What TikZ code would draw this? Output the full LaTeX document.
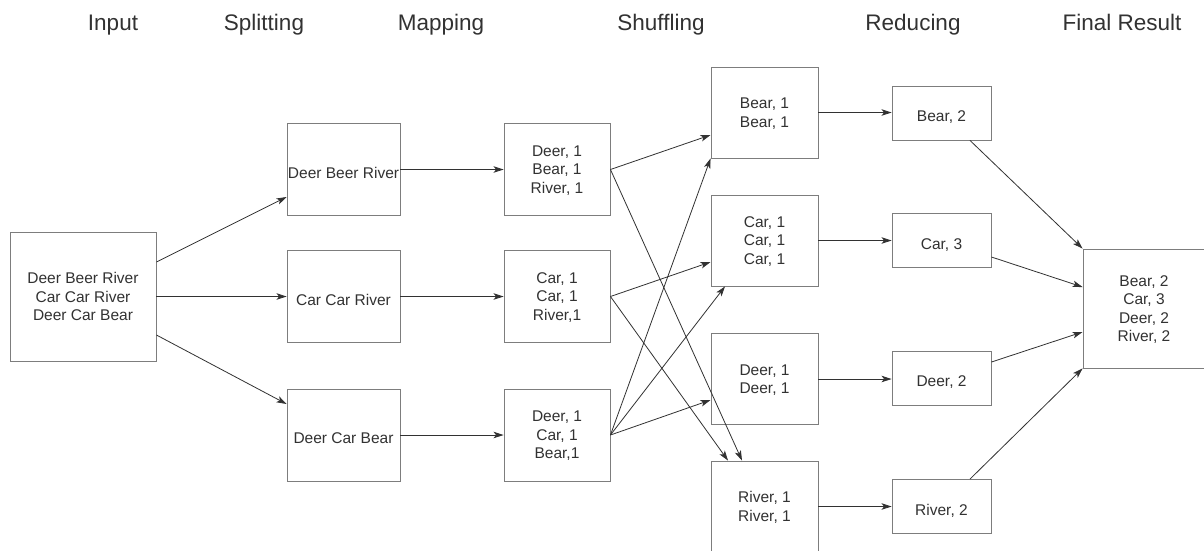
\documentclass[tikz,border=0pt]{standalone}
\usepackage{fontspec}
\setmainfont{Liberation Sans}
\usetikzlibrary{arrows.meta}
\definecolor{boxline}{RGB}{125,125,125}
\definecolor{wire}{RGB}{50,50,50}
\definecolor{txt}{RGB}{50,50,50}

\begin{document}
\begin{tikzpicture}[x=1pt,y=-1pt,
  box/.style={draw=boxline, line width=0.9pt, inner sep=0pt, align=center,
    text=txt, font=\fontsize{15.5}{18.6}\selectfont, text depth=0pt,
    execute at begin node={\rule{0pt}{17pt}}},
  heading/.style={anchor=base, text=txt, font=\fontsize{22.5}{27}\selectfont},
  flow/.style={draw=wire, line width=0.8pt,
    -{Stealth[length=10pt,width=6.5pt,inset=2.5pt]}}]

\fill[white] (0,0) rectangle (1204,550);
\useasboundingbox (0,0) rectangle (1204,550);

% column headings
\node[heading] (hIn)  at (113,30)  {Input};
\node[heading] (hSp)  at (264,30)  {Splitting};
\node[heading] (hMp)  at (441,30)  {Mapping};
\node[heading] (hSh)  at (661,30)  {Shuffling};
\node[heading] (hRd)  at (913,30)  {Reducing};
\node[heading] (hFn)  at (1122,30) {Final Result};

% input
\node[box, minimum width=146pt, minimum height=129pt] (inp) at (83,296.5)
  {Deer Beer River\\Car Car River\\Deer Car Bear};

% splitting
\begin{scope}[every node/.append style={minimum width=113pt, minimum height=92pt}]
\node[box] (sp1) at (343.5,169.5) {Deer Beer River};
\node[box] (sp2) at (343.5,296.5) {Car Car River};
\node[box] (sp3) at (343.5,435)   {Deer Car Bear};
\end{scope}

% mapping
\begin{scope}[every node/.append style={minimum width=106pt, minimum height=92pt}]
\node[box] (mp1) at (557,169.5) {Deer, 1\\Bear, 1\\River, 1};
\node[box] (mp2) at (557,296.5) {Car, 1\\Car, 1\\River,1};
\node[box] (mp3) at (557,435)   {Deer, 1\\Car, 1\\Bear,1};
\end{scope}

% shuffling
\begin{scope}[every node/.append style={minimum width=107pt, minimum height=91pt}]
\node[box] (sh1) at (764.5,112.5) {Bear, 1\\Bear, 1};
\node[box] (sh2) at (764.5,240.5) {Car, 1\\Car, 1\\Car, 1};
\node[box] (sh3) at (764.5,379)   {Deer, 1\\Deer, 1};
\node[box] (sh4) at (764.5,506.5) {River, 1\\River, 1};
\end{scope}

% reducing
\begin{scope}[every node/.append style={minimum width=99pt, minimum height=54pt}]
\node[box] (rd1) at (941.5,113)   {Bear, 2};
\node[box] (rd2) at (941.5,240.5) {Car, 3};
\node[box] (rd3) at (941.5,378)   {Deer, 2};
\node[box] (rd4) at (941.5,506.5) {River, 2};
\end{scope}

% final result
\node[box, minimum width=122pt, minimum height=119pt] (fin) at (1144,308.5)
  {Bear, 2\\Car, 3\\Deer, 2\\River, 2};

% input -> splitting
\draw[flow] ([yshift=34.5pt]inp.east) -- ([yshift=-27.5pt]sp1.west);
\draw[flow] (inp.east) -- (sp2.west);
\draw[flow] ([yshift=-38.5pt]inp.east) -- ([yshift=31pt]sp3.west);

% splitting -> mapping
\draw[flow] (sp1.east) -- (mp1.west);
\draw[flow] (sp2.east) -- (mp2.west);
\draw[flow] (sp3.east) -- (mp3.west);

% mapping -> shuffling
\draw[flow] (mp1.east) -- ([yshift=-22.5pt]sh1.west);
\draw[flow] (mp1.east) -- ([xshift=-22.5pt]sh4.north);
\draw[flow] (mp2.east) -- ([yshift=-21.5pt]sh2.west);
\draw[flow] (mp2.east) -- ([xshift=-36.5pt]sh4.north);
\draw[flow] (mp3.east) -- (sh1.south west);
\draw[flow] (mp3.east) -- ([xshift=-39.5pt]sh2.south);
\draw[flow] (mp3.east) -- ([yshift=-21pt]sh3.west);

% shuffling -> reducing
\draw[flow] (sh1.east) -- (sh1.east -| rd1.west);
\draw[flow] (sh2.east) -- (sh2.east -| rd2.west);
\draw[flow] (sh3.east) -- (sh3.east -| rd3.west);
\draw[flow] (sh4.east) -- (sh4.east -| rd4.west);

% reducing -> final result
\draw[flow] ([xshift=28.5pt]rd1.south) -- (fin.north west);
\draw[flow] ([yshift=-16.5pt]rd2.east) -- ([yshift=21.5pt]fin.west);
\draw[flow] ([yshift=16pt]rd3.east) -- ([yshift=-23.5pt]fin.west);
\draw[flow] ([xshift=28.5pt]rd4.north) -- (fin.south west);
\end{tikzpicture}
\end{document}
